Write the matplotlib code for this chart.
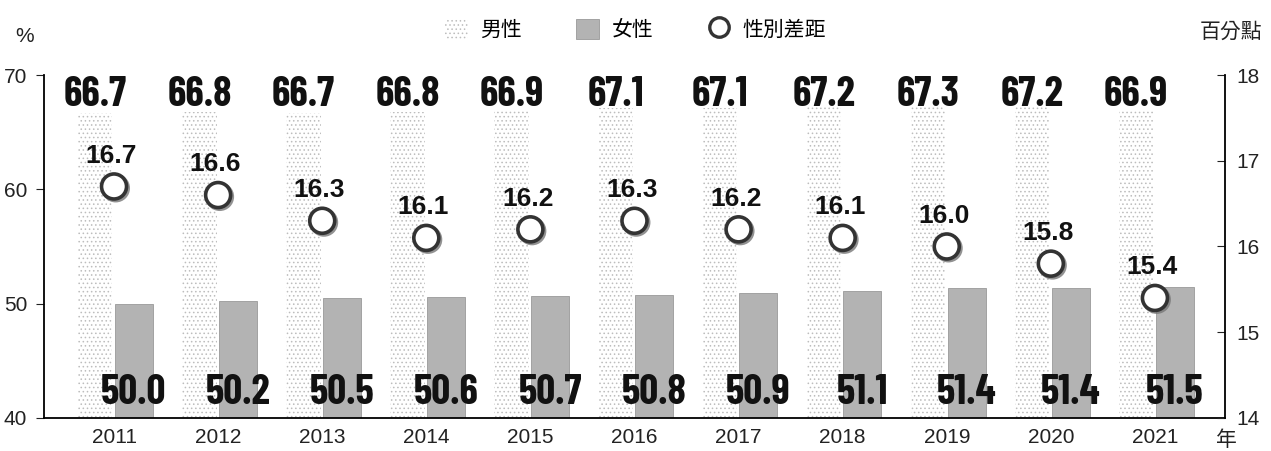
import matplotlib
matplotlib.use("Agg")
import matplotlib.pyplot as plt
import matplotlib.patheffects as pe
from matplotlib.patches import Patch
from matplotlib.lines import Line2D
import numpy as np

plt.rcParams['font.family'] = ['Liberation Sans', 'Noto Sans CJK TC', 'DejaVu Sans']
plt.rcParams['hatch.color'] = '#bdbdbd'
plt.rcParams['hatch.linewidth'] = 0.6

years = ["2011", "2012", "2013", "2014", "2015", "2016", "2017", "2018", "2019", "2020", "2021"]
male = [66.7, 66.8, 66.7, 66.8, 66.9, 67.1, 67.1, 67.2, 67.3, 67.2, 66.9]
female = [50.0, 50.2, 50.5, 50.6, 50.7, 50.8, 50.9, 51.1, 51.4, 51.4, 51.5]
gap = [16.7, 16.6, 16.3, 16.1, 16.2, 16.3, 16.2, 16.1, 16.0, 15.8, 15.4]

x = np.arange(len(years))
narrow = ['Barlow Condensed', 'DejaVu Sans']

fig = plt.figure(figsize=(12.71, 4.51), dpi=100)
ax = fig.add_axes([0.0346, 0.0732, 0.9292, 0.7605])

ax.bar(x - 0.18, [m - 40 for m in male], bottom=40, width=0.33, color='white',
       hatch='....', linewidth=0, zorder=1)
ax.bar(x + 0.19, [f - 40 for f in female], bottom=40, width=0.365, color='#b3b3b3',
       edgecolor='#999999', linewidth=0.6, zorder=2)

for i in range(len(years)):
    ax.text(x[i] - 0.18, 68.25, f"{male[i]:.1f}", ha='center', va='center',
            fontsize=30, fontweight=700, family=narrow, color='#111111', zorder=5)
    ax.text(x[i] + 0.19, 42.2, f"{female[i]:.1f}", ha='center', va='center',
            fontsize=30, fontweight=700, family=narrow, color='#111111', zorder=5)

ax.set_xlim(-0.673, 10.673)
ax.set_ylim(40, 70)
ax.set_yticks([40, 50, 60, 70])
ax.set_xticks(x)
ax.set_xticklabels(years)
ax.tick_params(axis='x', length=0, labelsize=15, colors='#222222', pad=7)
ax.tick_params(axis='y', direction='out', length=6, labelsize=15, colors='#222222', pad=6)
for s in ['top', 'right']:
    ax.spines[s].set_visible(False)
ax.spines['left'].set_linewidth(1.3)
ax.spines['bottom'].set_linewidth(1.3)

ax2 = ax.twinx()
ax2.set_ylim(14, 18)
ax2.set_yticks([14, 15, 16, 17, 18])
ax2.tick_params(axis='y', direction='in', length=6, labelsize=15, colors='#222222', pad=8)
for s in ['top', 'left', 'bottom']:
    ax2.spines[s].set_visible(False)
ax2.spines['right'].set_linewidth(1.3)

ax2.plot(x, gap, linestyle='none', marker='o', markersize=18, markerfacecolor='white',
         markeredgecolor='#333333', markeredgewidth=2.6, zorder=6,
         path_effects=[pe.SimpleLineShadow(offset=(1.2, -1.2), shadow_color='#777777', alpha=0.8),
                       pe.Normal()])
for i in range(len(years)):
    ax2.annotate(f"{gap[i]:.1f}", (x[i], gap[i]), xytext=(-2, 22), textcoords='offset points',
                 ha='center', va='center', fontsize=19, fontweight='bold', color='#111111')

fig.text(0.012, 0.92, "%", fontsize=15, color='#222222', ha='left', va='center')
fig.text(0.993, 0.93, "百分點", fontsize=15, color='#222222', ha='right', va='center')
fig.text(0.957, 0.025, "年", fontsize=15, color='#222222', ha='left', va='center')

handles = [Patch(facecolor='white', hatch='....', linewidth=0),
           Patch(facecolor='#b3b3b3', edgecolor='#999999', linewidth=0.6),
           Line2D([], [], linestyle='none', marker='o', markersize=14, markerfacecolor='white',
                  markeredgecolor='#333333', markeredgewidth=2.4)]
fig.legend(handles, ["男性", "女性", "性別差距"], loc='upper center', bbox_to_anchor=(0.5, 1.0),
           ncol=3, frameon=False, fontsize=15, handlelength=1.1, handleheight=1.1,
           columnspacing=2.6, handletextpad=0.6)

fig.savefig("out.png", dpi=100)
